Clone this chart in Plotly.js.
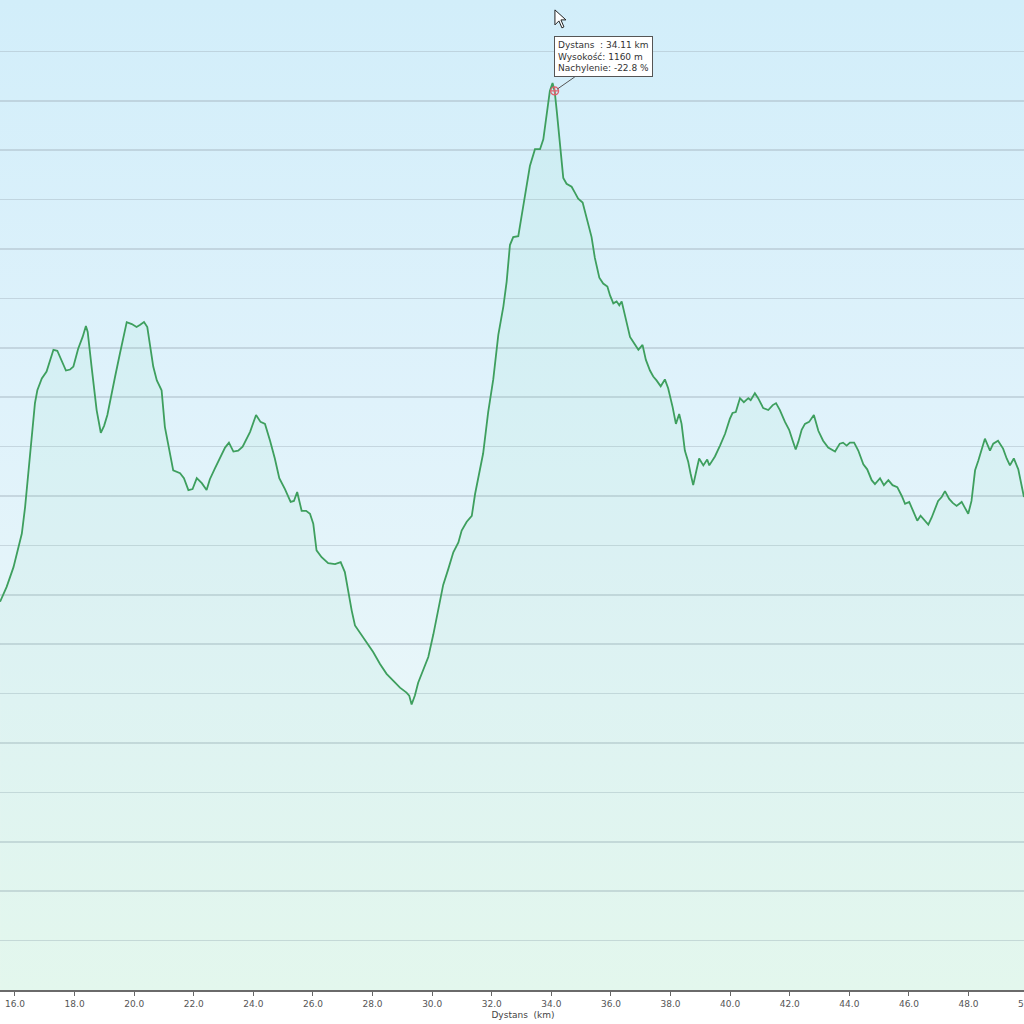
<!DOCTYPE html>
<html>
<head>
<meta charset="utf-8">
<script src="https://cdn.plot.ly/plotly-3.0.1.min.js"></script>
<style>
html,body{margin:0;padding:0;overflow:hidden;background:#ffffff;}
#chart{width:1046px;height:1024px;
background:linear-gradient(to bottom,#d2eefa 0px,#dff2fb 400px,#e8f6f9 700px,#edfaf4 990px,#ffffff 990px,#ffffff 1024px);}
</style>
</head>
<body>
<div id="chart"></div>
<script>
// Distance (km) along the route
const distanceKm = [15.50,15.72,15.95,16.11,16.23,16.34,16.45,16.56,16.67,16.75,16.90,17.06,17.17,17.29,17.42,17.57,17.71,17.85,17.96,18.12,18.27,18.38,18.44,18.57,18.74,18.88,18.99,19.10,19.21,19.36,19.52,19.63,19.75,19.92,20.08,20.19,20.33,20.44,20.53,20.64,20.76,20.92,21.03,21.14,21.31,21.54,21.67,21.82,21.96,22.10,22.27,22.43,22.54,22.71,22.88,23.05,23.18,23.33,23.49,23.64,23.89,24.09,24.24,24.39,24.56,24.72,24.87,25.06,25.25,25.36,25.47,25.62,25.77,25.90,26.01,26.12,26.29,26.51,26.74,26.93,27.07,27.18,27.30,27.41,27.63,27.80,28.02,28.25,28.47,28.70,28.92,29.14,29.23,29.31,29.42,29.53,29.70,29.87,30.04,30.21,30.37,30.54,30.71,30.88,30.99,31.16,31.33,31.44,31.58,31.71,31.88,32.05,32.22,32.39,32.50,32.61,32.72,32.89,33.00,33.17,33.28,33.45,33.62,33.73,33.84,33.95,34.04,34.11,34.18,34.29,34.40,34.51,34.68,34.79,34.90,35.05,35.18,35.35,35.46,35.61,35.74,35.88,35.97,36.08,36.19,36.28,36.36,36.41,36.53,36.64,36.81,36.92,37.06,37.17,37.31,37.42,37.53,37.67,37.81,37.92,38.07,38.18,38.29,38.37,38.48,38.59,38.67,38.76,38.87,38.96,39.10,39.23,39.30,39.49,39.66,39.83,39.99,40.08,40.19,40.33,40.46,40.61,40.69,40.83,40.94,41.11,41.28,41.43,41.54,41.67,41.84,41.98,42.10,42.20,42.29,42.40,42.51,42.65,42.81,42.96,43.12,43.29,43.52,43.68,43.79,43.91,44.02,44.16,44.30,44.47,44.60,44.75,44.86,45.03,45.16,45.31,45.45,45.61,45.76,45.87,46.01,46.14,46.28,46.39,46.54,46.65,46.76,46.87,46.98,47.10,47.21,47.35,47.47,47.60,47.77,47.88,47.99,48.10,48.22,48.33,48.44,48.55,48.72,48.83,48.99,49.16,49.28,49.39,49.52,49.67,49.86];
// Elevation (m)
const elevationM = [643,658,678,698,712,739,773,806,844,857,869,876,886,898,897,886,877,878,881,899,911,922,916,881,837,814,821,832,850,871,894,911,926,924,921,923,926,921,904,881,867,857,820,803,776,773,768,756,757,768,763,756,767,778,789,799,804,795,796,800,815,832,825,823,806,788,768,757,744,745,754,735,735,732,722,695,688,682,681,683,673,654,634,619,609,602,592,580,570,563,556,551,548,539,548,561,575,587,610,637,660,676,693,703,715,724,730,752,772,793,835,868,913,942,967,1004,1012,1013,1033,1066,1084,1101,1101,1111,1136,1160,1168,1160,1140,1103,1072,1066,1063,1057,1051,1047,1031,1012,991,971,965,962,953,945,947,943,947,940,925,911,903,898,903,888,877,871,867,861,868,859,840,823,833,823,796,785,773,761,776,788,781,787,781,790,801,813,828,834,835,849,845,849,847,854,849,839,837,842,844,837,825,817,806,797,805,817,823,825,832,816,806,799,795,803,804,801,804,804,796,782,777,766,762,768,761,766,761,759,750,742,744,735,725,730,725,721,728,737,745,749,755,747,743,740,744,738,732,745,776,786,798,808,796,803,806,798,788,781,788,777,749];

// Highlighted point (tooltip)
const markerKm = [34.11];
const markerM = [1160];
const markerSlope = -22.8;

const tooltipText = 'Dystans\u00a0\u00a0: ' + markerKm[0].toFixed(2) + ' km<br>Wysokość: ' + markerM[0] + ' m<br>Nachylenie: ' + markerSlope.toFixed(1) + ' %';

const traces = [
  {
    x: distanceKm, y: elevationM, type: 'scatter', mode: 'lines',
    line: {color: '#3e9f5e', width: 1.8},
    fill: 'tozeroy', fillcolor: 'rgba(120,220,160,0.08)',
    hoverinfo: 'skip', showlegend: false
  },
  {
    x: markerKm, y: markerM, type: 'scatter', mode: 'markers',
    marker: {symbol: 'circle-cross-open', size: 8, color: '#e0606e', line: {width: 1.2}},
    hoverinfo: 'skip', showlegend: false
  }
];

const layout = {
  width: 1046, height: 1024,
  margin: {l: 0, r: 0, t: 2, b: 34, pad: 0},
  paper_bgcolor: 'rgba(0,0,0,0)', plot_bgcolor: 'rgba(0,0,0,0)',
  font: {family: 'DejaVu Sans, Verdana, sans-serif', size: 9, color: '#555'},
  xaxis: {
    range: [15.497, 50.6], tick0: 16, dtick: 2, tickformat: '.1f',
    showgrid: false, zeroline: false,
    showline: true, linecolor: '#6a6a6a', linewidth: 2,
    ticks: 'outside', ticklen: 4, tickcolor: '#666', tickwidth: 1,
    tickfont: {size: 9, color: '#555'},
    title: {text: 'Dystans\u00a0\u00a0(km)', font: {size: 9, color: '#444'}, standoff: 4}
  },
  yaxis: {
    range: [250, 1250], tick0: 250, dtick: 50,
    showgrid: true, gridcolor: 'rgba(165,180,190,0.45)', gridwidth: 1.6,
    zeroline: false, showline: false, showticklabels: false, ticks: ''
  },
  shapes: [{
    type: 'path', xref: 'x', yref: 'y', xsizemode: 'pixel', ysizemode: 'pixel',
    xanchor: 34.12, yanchor: 1242,
    path: 'M0,0 L0,-15 L4,-11 L7,-18 L9,-17 L6,-10 L11,-10 Z',
    fillcolor: '#ffffff', line: {color: '#222', width: 1}
  }],
  annotations: [{
    x: markerKm[0], y: markerM[0], xref: 'x', yref: 'y',
    text: tooltipText, align: 'left',
    showarrow: true, arrowhead: 0, arrowwidth: 1, arrowcolor: '#555', standoff: 3,
    ax: 49, ay: -34,
    bgcolor: '#ffffff', bordercolor: '#555', borderwidth: 1, borderpad: 3,
    font: {size: 9, color: '#333', family: 'DejaVu Sans, Verdana, sans-serif'}
  }]
};

Plotly.newPlot('chart', traces, layout, {displayModeBar: false, staticPlot: true});
</script>
</body>
</html>
